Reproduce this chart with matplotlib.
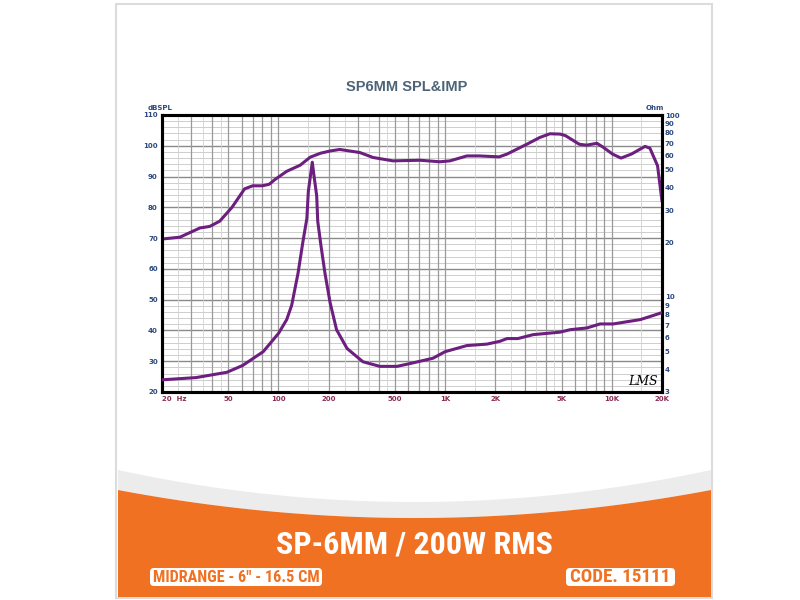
import numpy as np
import matplotlib.pyplot as plt
from matplotlib.patches import FancyBboxPatch, Rectangle, Polygon

# SPL response (Hz, dB)
spl_freq = [20, 25.6, 33.8, 38.7, 44.4, 52.6, 62.6, 70, 80, 88, 95, 112, 135, 155, 179,
            204, 233, 308, 369, 486, 707, 929, 1068, 1350, 1606, 2110, 2350, 3090,
            3697, 4250, 4890, 5271, 6375, 7057, 8146, 8890, 10100, 11350, 13100,
            15820, 16930, 18810, 20000]
spl_db = [69.7, 70.3, 73.3, 73.8, 75.5, 80, 86, 87, 87, 87.5, 89, 91.7, 93.7, 96.3, 97.6,
          98.3, 98.8, 97.8, 96.2, 95.1, 95.3, 94.8, 95.1, 96.7, 96.7, 96.4, 97.3, 100.5,
          102.7, 103.9, 103.8, 103.3, 100.5, 100.2, 100.8, 99.5, 97.3, 96, 97.3,
          99.8, 99.2, 93.5, 82]

# impedance (Hz, Ohm)
imp_freq = [20, 32, 49, 61, 81, 100, 112, 120, 131, 140, 148, 151, 159.5, 164, 169.5,
            172, 180, 190, 204, 223, 258, 321, 406, 514, 615, 845, 1000, 1350, 1780,
            2130, 2350, 2730, 3370, 4890, 5610, 7090, 8500, 10200, 12300, 14800,
            17700, 20000]
imp_ohm = [3.5, 3.6, 3.85, 4.2, 5.0, 6.3, 7.5, 9.0, 13.5, 20, 27, 38, 55, 45, 36,
           26, 19, 13.5, 9.3, 6.6, 5.2, 4.4, 4.15, 4.15, 4.3, 4.6, 5.0, 5.4, 5.5,
           5.7, 5.9, 5.9, 6.2, 6.4, 6.6, 6.75, 7.1, 7.1, 7.3, 7.5,
           7.9, 8.2]

x_ticks = [20, 50, 100, 200, 500, 1000, 2000, 5000, 10000, 20000]
x_labels = ['20  Hz', '50', '100', '200', '500', '1K', '2K', '5K', '10K', '20K']
db_ticks = [20, 30, 40, 50, 60, 70, 80, 90, 100, 110]
ohm_ticks = [3, 4, 5, 6, 7, 8, 9, 10, 20, 30, 40, 50, 60, 70, 80, 90, 100]

orange = '#f07122'
purple = '#6c1f7e'
blue = '#2c4a7e'
red = '#8a2c55'

fig = plt.figure(figsize=(8, 6), dpi=100)
renderer = fig.canvas.get_renderer()

def fit_width(txt, width_px):
    # shrink/grow font so the text spans the wanted width
    bb = txt.get_window_extent(renderer)
    txt.set_fontsize(txt.get_fontsize() * width_px / bb.width)

# background card + orange banner, drawn in pixel coords
bg = fig.add_axes([0, 0, 1, 1])
bg.set_xlim(0, 800)
bg.set_ylim(600, 0)
bg.axis('off')
bg.add_patch(Rectangle((116, 4), 596, 594, facecolor='white', edgecolor='#dcdcdc', lw=1.5))
xs = np.linspace(118, 711, 200)
t = (xs - 414.5) / 296.5
gray_top = 470 + 32 * (1 - t**2)
orange_top = 490 + 28 * (1 - t**2)
bg.add_patch(Polygon(np.column_stack([np.r_[xs, xs[::-1]], np.r_[gray_top, orange_top[::-1]]]),
                     facecolor='#ececec', edgecolor='none'))
bg.add_patch(Polygon(np.column_stack([np.r_[xs, 711, 118], np.r_[orange_top, 597, 597]]),
                     facecolor=orange, edgecolor='none'))
narrow = ['Roboto Condensed', 'Noto Sans Condensed', 'Liberation Sans Narrow',
          'Noto Sans', 'DejaVu Sans']
big = bg.text(414, 544, 'SP-6MM / 200W RMS', color='white', fontsize=25, fontweight='heavy',
              family=narrow, fontstretch='condensed', ha='center', va='center')
fit_width(big, 277)
for (x0, x1, tw, txt) in [(146, 326, 166, 'MIDRANGE - 6" - 16.5 CM'),
                          (562, 679, 100, 'CODE. 15111')]:
    bg.add_patch(FancyBboxPatch((x0 + 4, 568), x1 - x0 - 8, 18,
                                boxstyle='round,pad=0,rounding_size=4',
                                facecolor='white', edgecolor='none'))
    lab = bg.text((x0 + x1) / 2, 577.5, txt, color=orange, fontsize=13, fontweight='heavy',
                  family=narrow, fontstretch='condensed', ha='center', va='center')
    fit_width(lab, tw)
bg.text(407, 87, 'SP6MM SPL&IMP', color='#4d6478', fontsize=10.5, fontweight='bold',
        family='Liberation Sans', ha='center', va='center')
bg.text(148, 108, 'dBSPL', color=blue, fontsize=5, fontweight='bold', va='center')
bg.text(664, 108, 'Ohm', color=blue, fontsize=5, fontweight='bold', va='center', ha='right')

# chart
ax = fig.add_axes([162/800, 1 - 392/600, 500/800, 277/600])
ax.set_xscale('log')
ax.set_xlim(20, 20000)
ax.set_ylim(20, 110)

for d in range(22, 110, 2):
    ax.axhline(d, color='#c6c6c6', lw=0.6, zorder=1)
for d in db_ticks:
    ax.axhline(d, color='#8a8a8a', lw=1.0, zorder=1)
for dec in [10, 100, 1000, 10000]:
    for m in [1.5, 2.5, 3.5, 4.5]:
        if 20 < m * dec < 20000:
            ax.axvline(m * dec, color='#d2d2d2', lw=0.6, zorder=1)
    for m in range(1, 10):
        if 20 < m * dec < 20000:
            ax.axvline(m * dec, color='#999999', lw=0.9, zorder=1)

ax.plot(spl_freq, spl_db, color=purple, lw=2.2, zorder=3, solid_capstyle='round')

ax.set_xticks(x_ticks)
ax.set_xticklabels(x_labels)
ax.xaxis.set_minor_locator(plt.NullLocator())
ax.set_yticks(db_ticks)
ax.tick_params(axis='x', length=0, pad=3, labelsize=5, labelcolor=red)
ax.tick_params(axis='y', length=0, pad=3, labelsize=5, labelcolor=blue)
for lab in ax.get_xticklabels() + ax.get_yticklabels():
    lab.set_fontweight('bold')
ax.get_xticklabels()[0].set_horizontalalignment('left')

ax2 = ax.twinx()
ax2.set_yscale('log')
ax2.set_ylim(3, 100)
ax2.plot(imp_freq, imp_ohm, color=purple, lw=2.2, zorder=3, solid_capstyle='round')
ax2.set_yticks(ohm_ticks)
ax2.set_yticklabels([str(v) for v in ohm_ticks])
ax2.yaxis.set_minor_locator(plt.NullLocator())
ax2.tick_params(axis='y', length=0, pad=2, labelsize=5, labelcolor=blue)
for lab in ax2.get_yticklabels():
    lab.set_fontweight('bold')

for a in (ax, ax2):
    for s in a.spines.values():
        s.set_linewidth(2.2)
        s.set_color('black')

ax.text(0.992, 0.015, 'LMS', transform=ax.transAxes, fontsize=9, style='italic',
        family='DejaVu Serif', ha='right', va='bottom', color='black', zorder=4)

fig.savefig('out.png', dpi=100)
